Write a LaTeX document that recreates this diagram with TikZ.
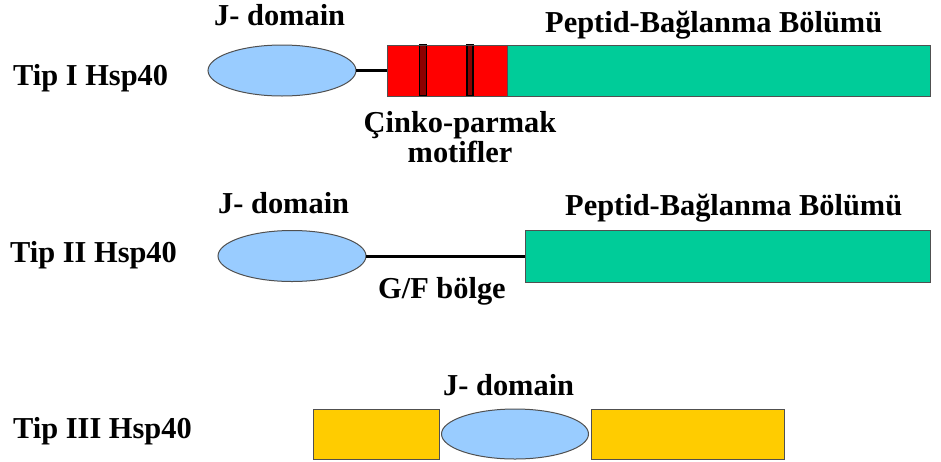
\documentclass[tikz,border=0pt]{standalone}
\usepackage{fontspec}
\setmainfont{Liberation Serif}
\usetikzlibrary{shapes.geometric}
\definecolor{jblue}{HTML}{99CCFF}
\definecolor{pgreen}{HTML}{00CC99}
\definecolor{zred}{HTML}{FF0000}
\definecolor{zdark}{HTML}{8B0000}
\definecolor{tyellow}{HTML}{FFCC00}
\definecolor{edge}{HTML}{505050}
\begin{document}
\begin{tikzpicture}[x=1pt,y=-1pt,
  lbl/.style={font=\fontsize{30.4}{34}\selectfont\bfseries, inner sep=0pt, anchor=base west},
  jdom/.style={ellipse, draw=edge, line width=1pt, fill=jblue, inner sep=0pt, outer sep=0pt},
  seg/.style={rectangle, draw=edge, line width=1pt, inner sep=0pt, outer sep=0pt, anchor=north west},
  stripe/.style={rectangle, fill=zdark, draw=black, line width=1.5pt, inner sep=0pt, outer sep=0pt, anchor=north west},
  linker/.style={line width=3pt, black}]
\useasboundingbox[fill=white] (0,0) rectangle (941,461);
% ---- Row 1
\node[lbl] (t1) at (13,85) {Tip I Hsp40};
\node[lbl] (j1l) at (214,25) {J- domain};
\node[lbl] (p1l) at (545,32) {Peptid-Bağlanma Bölümü};
\node[jdom, minimum width=148pt, minimum height=51pt] (j1) at (282,70.5) {};
\node[seg, fill=zred, minimum width=120pt, minimum height=51pt] (r1) at (387,45) {};
\node[seg, fill=pgreen, minimum width=423pt, minimum height=51pt] (g1) at (507,45) {};
\node[stripe, minimum width=7pt, minimum height=51pt] (s1) at (419.5,45) {};
\node[stripe, minimum width=6pt, minimum height=51pt] (s2) at (467,45) {};
\draw[draw=edge, line width=1pt] (r1.north west) rectangle (r1.south east);
\draw[linker] (j1.east) -- (r1.west);
\node[font=\fontsize{30.4}{30}\selectfont\bfseries, align=center, inner sep=0pt, anchor=north] (zf) at (460,111) {Çinko-parmak\\motifler};
% ---- Row 2
\node[lbl] (t2) at (10,262) {Tip II Hsp40};
\node[lbl] (j2l) at (218,213) {J- domain};
\node[lbl] (p2l) at (565,215) {Peptid-Bağlanma Bölümü};
\node[seg, fill=pgreen, minimum width=405pt, minimum height=52pt] (g2) at (525,230) {};
\node[jdom, minimum width=148pt, minimum height=51pt] (j2) at (292,256) {};
\draw[linker] (j2.east) -- (g2.west);
\node[lbl] (gf) at (378,298) {G/F bölge};
% ---- Row 3
\node[lbl] (t3) at (13,438) {Tip III Hsp40};
\node[lbl] (j3l) at (443,395) {J- domain};
\node[seg, fill=tyellow, minimum width=126pt, minimum height=50pt] (y1) at (313,409) {};
\node[seg, fill=tyellow, minimum width=193pt, minimum height=50pt] (y2) at (591,409) {};
\node[jdom, minimum width=147pt, minimum height=50pt] (j3) at (515,434) {};
\end{tikzpicture}
\end{document}
